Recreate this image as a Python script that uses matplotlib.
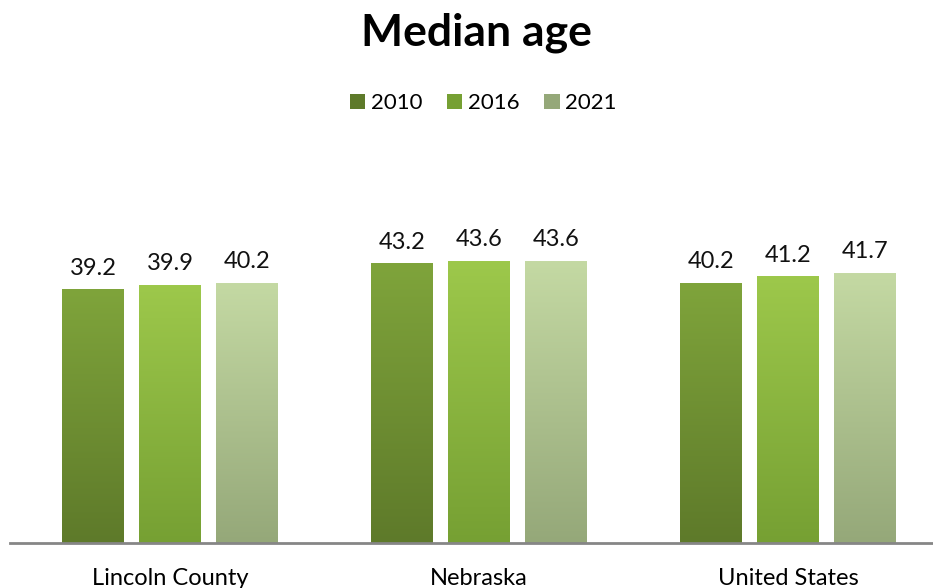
import numpy as np
import matplotlib.pyplot as plt
from matplotlib.colors import LinearSegmentedColormap
from matplotlib.patches import Patch

# Median age by area and year
areas = ["Lincoln County", "Nebraska", "United States"]
years = ["2010", "2016", "2021"]
values = {
    "2010": [39.2, 43.2, 40.2],
    "2016": [39.9, 43.6, 41.2],
    "2021": [40.2, 43.6, 41.7],
}

# top / bottom colour of each series gradient
grad = {
    "2010": ("#7fa43b", "#5e7a2a"),
    "2016": ("#9dc84b", "#76a033"),
    "2021": ("#c4d9a3", "#95a879"),
}

plt.rcParams['font.family'] = ['Lato', 'DejaVu Sans']

fig = plt.figure(figsize=(9.33, 5.88), dpi=100)
ax = fig.add_axes([10/933, 45/588, 923/933, 375/588])

x = np.arange(len(areas))
w = 0.2
step = 0.249
ramp = np.linspace(0, 1, 256).reshape(-1, 1)

for i, yr in enumerate(years):
    cmap = LinearSegmentedColormap.from_list(yr, [grad[yr][1], grad[yr][0]])
    pos = x + (i - 1) * step
    bars = ax.bar(pos, values[yr], w, color='none', edgecolor='none')
    for b, v in zip(bars, values[yr]):
        x0 = b.get_x()
        ax.imshow(ramp, cmap=cmap, aspect='auto', origin='lower',
                  extent=(x0, x0 + w, 0, v), zorder=2)
        ax.text(b.get_x() + w / 2, v + 1.7, f"{v:.1f}", ha='center',
                va='bottom', fontsize=17, color='#111111')

ax.set_xlim(-0.518, 2.469)
ax.set_ylim(0, 58)
ax.set_xticks(x)
ax.set_xticklabels(areas, fontsize=17)
ax.tick_params(axis='x', length=0, pad=18)
ax.set_yticks([])
for s in ['top', 'right', 'left']:
    ax.spines[s].set_visible(False)
ax.spines['bottom'].set_color('#868686')
ax.spines['bottom'].set_linewidth(2)
ax.spines['bottom'].set_zorder(3)

fig.text(0.511, 0.945, "Median age", ha='center', va='center',
         fontsize=32, fontweight='bold')

handles = [Patch(facecolor=grad[yr][1], edgecolor='none') for yr in years]
fig.legend(handles, years, loc='center', bbox_to_anchor=(0.518, 0.824),
           ncol=3, frameon=False, fontsize=16, handlelength=0.7,
           handleheight=0.7, handletextpad=0.25, columnspacing=1.1)

fig.savefig("out.png", dpi=100)
